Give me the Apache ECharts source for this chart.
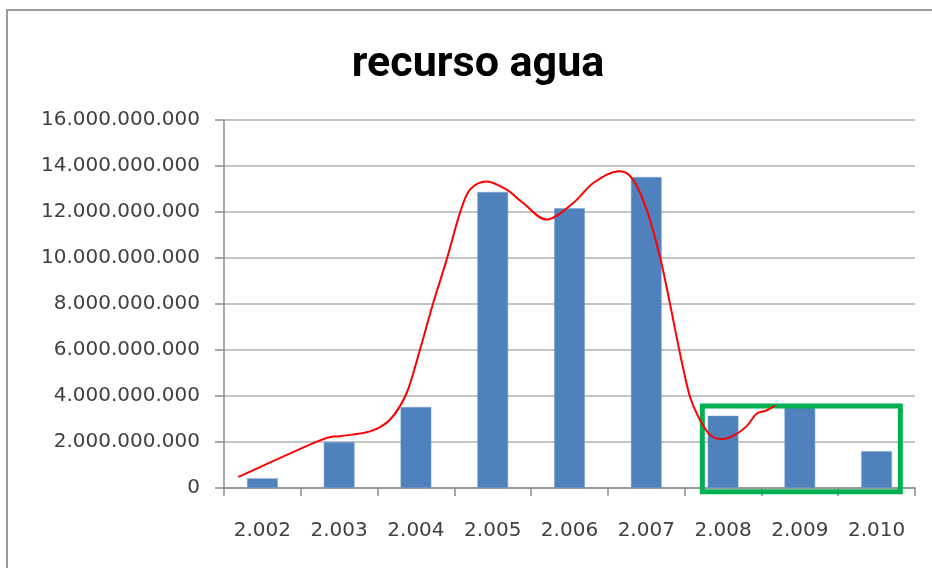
<!DOCTYPE html>
<html>
<head>
<meta charset="utf-8">
<script src="https://cdn.jsdelivr.net/npm/echarts@6/dist/echarts.min.js"></script>
<style>
html,body{margin:0;padding:0;background:#fff;}
#chart{width:932px;height:568px;}
</style>
</head>
<body>
<div id="chart"></div>
<script>
// ---- data ----
const categories = ['2.002','2.003','2.004','2.005','2.006','2.007','2.008','2.009','2.010'];
const recursoAgua = [0.42e9, 2.0e9, 3.52e9, 12.87e9, 12.16e9, 13.52e9, 3.14e9, 3.55e9, 1.6e9];
const yMin = 0, yMax = 16e9, yInterval = 2e9;

// hand-drawn red curve (x in category-index units, y in value units)
const curveX = [-0.314, 0.75, 1.01, 1.401, 1.661, 1.879, 2.052, 2.225, 2.40, 2.573, 2.703, 2.921, 3.181, 3.397, 3.702, 4.048, 4.309, 4.634, 4.829, 5.004, 5.177, 5.307, 5.438, 5.568, 5.698, 5.828, 5.965, 6.132, 6.306, 6.436, 6.566, 6.674];
const curveY = [0.48e9, 2.07e9, 2.25e9, 2.46e9, 2.97e9, 4.13e9, 6.01e9, 8.04e9, 9.93e9, 11.96e9, 12.97e9, 13.33e9, 12.97e9, 12.39e9, 11.67e9, 12.39e9, 13.26e9, 13.77e9, 13.40e9, 12.10e9, 10.07e9, 8.04e9, 5.87e9, 3.98e9, 2.97e9, 2.32e9, 2.13e9, 2.27e9, 2.68e9, 3.23e9, 3.37e9, 3.58e9];

// green highlight box (x in category-index units, y in value units)
const boxX = [7.0, 8.309, 8.309, 5.73, 5.73, 7.0];
const boxY = [3.56e9, 3.56e9, -0.16e9, -0.16e9, 3.56e9, 3.56e9];

const fmt = v => String(Math.round(v)).replace(/\B(?=(\d{3})+(?!\d))/g, '.');
const zip = (a, b) => a.map((x, i) => [x, b[i]]);
const curveData = zip(curveX, curveY);

// Catmull-Rom spline through pixel points (positions come from api.coord)
function splinePath(pts) {
  let d = 'M' + pts[0][0] + ' ' + pts[0][1];
  for (let i = 0; i < pts.length - 1; i++) {
    const p0 = pts[i - 1] || pts[i];
    const p1 = pts[i];
    const p2 = pts[i + 1];
    const p3 = pts[i + 2] || p2;
    const c1x = p1[0] + (p2[0] - p0[0]) / 6, c1y = p1[1] + (p2[1] - p0[1]) / 6;
    const c2x = p2[0] - (p3[0] - p1[0]) / 6, c2y = p2[1] - (p3[1] - p1[1]) / 6;
    d += ' C' + c1x + ' ' + c1y + ' ' + c2x + ' ' + c2y + ' ' + p2[0] + ' ' + p2[1];
  }
  return d;
}

const chart = echarts.init(document.getElementById('chart'), null, {renderer: 'canvas'});
chart.setOption({
  backgroundColor: '#ffffff',
  animation: false,
  title: {
    text: 'recurso agua',
    left: 473,
    top: 39,
    textAlign: 'center',
    textStyle: {fontFamily: 'Roboto', fontWeight: 'bold', fontSize: 43, color: '#000000'}
  },
  graphic: [{
    type: 'rect',
    shape: {x: 7, y: 10, width: 960, height: 600},
    style: {fill: 'none', stroke: '#9a9a9a', lineWidth: 2},
    silent: true, z: -1
  }],
  grid: {left: 224, right: 17, top: 120, bottom: 80, containLabel: false},
  xAxis: [{
    type: 'category',
    data: categories,
    axisLine: {lineStyle: {color: '#8c8c8c', width: 1.5}},
    axisTick: {show: true, length: 8, lineStyle: {color: '#8c8c8c', width: 1.5}},
    axisLabel: {fontFamily: 'DejaVu Sans', fontSize: 20, color: '#404040', margin: 33},
    splitLine: {show: false}
  }, {
    type: 'value',
    min: -0.5, max: 8.5,
    show: false,
    splitLine: {show: false}
  }],
  yAxis: {
    type: 'value',
    min: yMin, max: yMax, interval: yInterval,
    axisLine: {show: true, onZero: false, lineStyle: {color: '#8c8c8c', width: 1.5}},
    axisTick: {show: true, length: 9, lineStyle: {color: '#8c8c8c', width: 1.5}},
    axisLabel: {fontFamily: 'DejaVu Sans', fontSize: 20, color: '#404040', margin: 24, formatter: fmt},
    splitLine: {lineStyle: {color: '#c4c4c4', width: 2}}
  },
  series: [{
    type: 'bar',
    xAxisIndex: 0,
    data: recursoAgua,
    barWidth: '40%',
    itemStyle: {color: '#4F81BD', borderColor: '#7fa3d0', borderWidth: 0.5},
    z: 2
  }, {
    type: 'line',
    xAxisIndex: 1,
    data: zip(boxX, boxY),
    symbol: 'none',
    clip: false,
    lineStyle: {color: '#00B050', width: 5, join: 'miter', cap: 'butt'},
    z: 3
  }, {
    type: 'custom',
    xAxisIndex: 1,
    data: curveData,
    clip: false,
    z: 4,
    renderItem: function (params, api) {
      if (params.dataIndex !== 0) return null;
      const pts = curveData.map(d => api.coord(d));
      return {
        type: 'path',
        shape: {pathData: splinePath(pts)},
        style: {fill: 'none', stroke: '#FF0000', lineWidth: 2}
      };
    }
  }]
});
</script>
</body>
</html>
